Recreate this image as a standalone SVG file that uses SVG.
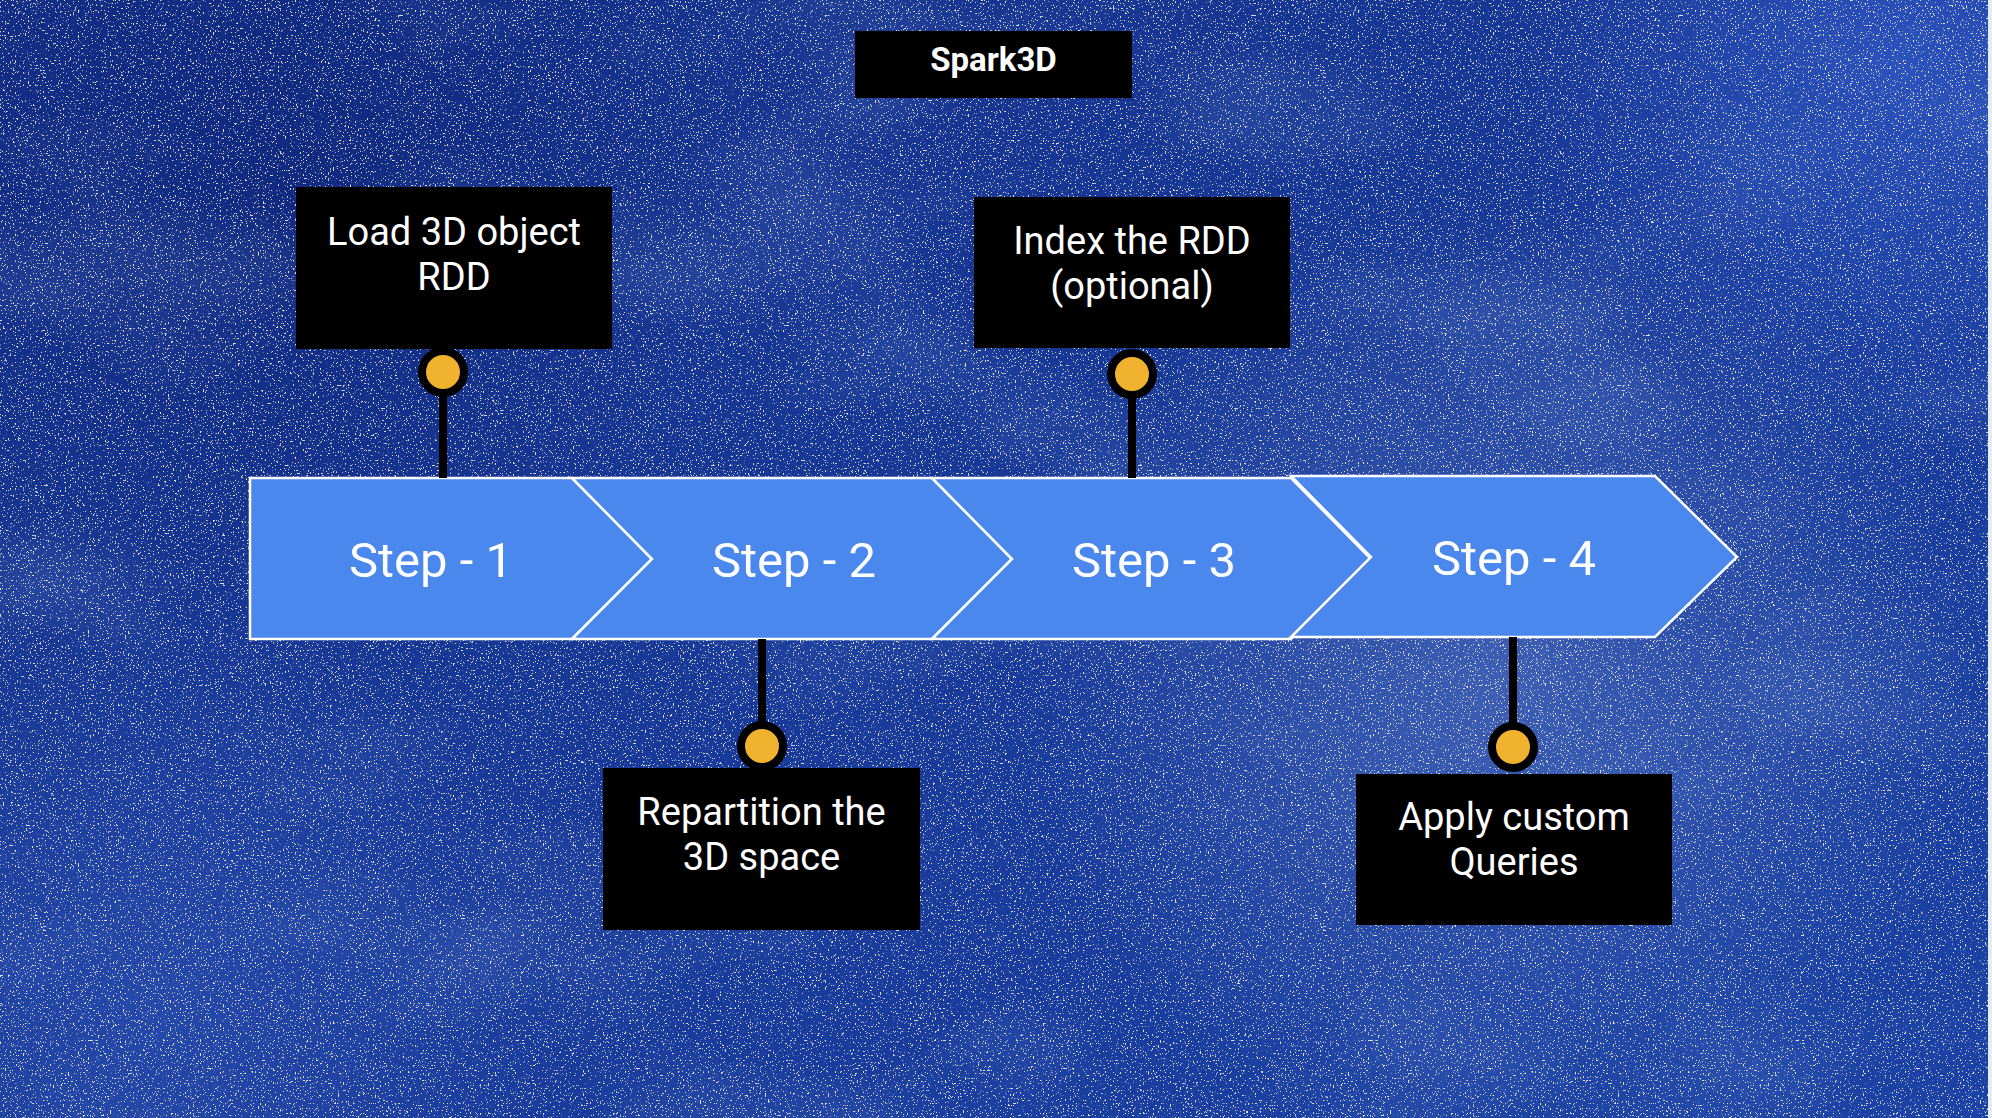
<svg xmlns="http://www.w3.org/2000/svg" width="1992" height="1118" viewBox="0 0 1992 1118">
  <defs>
    <style>
      .step { fill: #4a88ee; stroke: #ffffff; stroke-width: 2.5; stroke-linejoin: miter; }
      .steptxt { font-family: Roboto, "Liberation Sans", sans-serif; font-size: 49px; fill: #ffffff; text-anchor: middle; }
      .box { fill: #000000; }
      .boxtxt { font-family: Roboto, "Liberation Sans", sans-serif; font-size: 38px; fill: #ffffff; text-anchor: middle; }
      .title { font-family: Roboto, "Liberation Sans", sans-serif; font-size: 33px; font-weight: bold; fill: #ffffff; text-anchor: middle; }
      .stem { stroke: #000000; stroke-width: 8; fill: none; }
      .dot { fill: #f1b22f; stroke: #000000; stroke-width: 8; }
    </style>
    <linearGradient id="sky" x1="0" y1="0" x2="1" y2="1">
      <stop offset="0" stop-color="#142e86"/>
      <stop offset="0.45" stop-color="#183896"/>
      <stop offset="1" stop-color="#1b42a4"/>
    </linearGradient>
    <radialGradient id="glow1" cx="1500" cy="680" r="480" gradientUnits="userSpaceOnUse">
      <stop offset="0" stop-color="#6a88cf" stop-opacity="0.45"/>
      <stop offset="1" stop-color="#6a88cf" stop-opacity="0"/>
    </radialGradient>
    <radialGradient id="glow2" cx="1900" cy="60" r="380" gradientUnits="userSpaceOnUse">
      <stop offset="0" stop-color="#3a66d8" stop-opacity="0.55"/>
      <stop offset="1" stop-color="#3a66d8" stop-opacity="0"/>
    </radialGradient>
    <radialGradient id="glow3" cx="150" cy="1000" r="420" gradientUnits="userSpaceOnUse">
      <stop offset="0" stop-color="#3a62c4" stop-opacity="0.4"/>
      <stop offset="1" stop-color="#3a62c4" stop-opacity="0"/>
    </radialGradient>
    <radialGradient id="dark1" cx="300" cy="180" r="420" gradientUnits="userSpaceOnUse">
      <stop offset="0" stop-color="#0c2172" stop-opacity="0.5"/>
      <stop offset="1" stop-color="#0c2172" stop-opacity="0"/>
    </radialGradient>
    <filter id="stars" filterUnits="userSpaceOnUse" x="0" y="0" width="1992" height="1118">
      <feTurbulence type="fractalNoise" baseFrequency="0.6" numOctaves="2" seed="7" result="n"/>
      <feColorMatrix in="n" type="matrix" values="0 0 0 0 0.92  0 0 0 0 0.95  0 0 0 0 1  16 0 0 0 -10.2"/>
    </filter>
    <filter id="clouds" filterUnits="userSpaceOnUse" x="0" y="0" width="1992" height="1118">
      <feTurbulence type="fractalNoise" baseFrequency="0.003 0.006" numOctaves="3" seed="2" result="c"/>
      <feColorMatrix in="c" type="matrix" values="0 0 0 0 0.25  0 0 0 0 0.4  0 0 0 0 0.8  2 0 0 0 -1.0"/>
    </filter>
  </defs>

  <g id="background">
    <rect x="0" y="0" width="1992" height="1118" fill="url(#sky)"/>
    <rect x="0" y="0" width="1992" height="1118" filter="url(#clouds)" opacity="0.22"/>
    <rect x="0" y="0" width="1992" height="1118" fill="url(#dark1)"/>
    <rect x="0" y="0" width="1992" height="1118" fill="url(#glow1)"/>
    <rect x="0" y="0" width="1992" height="1118" fill="url(#glow2)"/>
    <rect x="0" y="0" width="1992" height="1118" fill="url(#glow3)"/>
    <rect x="0" y="0" width="1992" height="1118" filter="url(#stars)" opacity="0.85"/>
    <rect x="1988" y="0" width="4" height="1118" fill="#e8ebf2"/>
  </g>

  <g id="title">
    <rect class="box" x="855" y="31" width="277" height="67"/>
    <text class="title" x="993.5" y="71">Spark3D</text>
  </g>

  <g id="step1">
    <polygon class="step" points="250,478 572,478 652,559 572,639 250,639"/>
    <text class="steptxt" x="431" y="577">Step - 1</text>
  </g>
  <g id="step2">
    <polygon class="step" points="572,478 932,478 1012,559 932,639 572,639 652,559"/>
    <text class="steptxt" x="794" y="577">Step - 2</text>
  </g>
  <g id="step3">
    <polygon class="step" points="932,478 1291,478 1371,559 1291,639 932,639 1012,559"/>
    <text class="steptxt" x="1154" y="577">Step - 3</text>
  </g>
  <g id="step4">
    <polygon class="step" points="1291,476 1655,476 1737,557 1655,637 1291,637 1371,557"/>
    <text class="steptxt" x="1514" y="575">Step - 4</text>
  </g>

  <g id="connectors">
    <line class="stem" x1="443" y1="372" x2="443" y2="478"/>
    <line class="stem" x1="762" y1="639" x2="762" y2="746"/>
    <line class="stem" x1="1132" y1="374" x2="1132" y2="478"/>
    <line class="stem" x1="1513" y1="637" x2="1513" y2="747"/>
  </g>

  <g id="label1">
    <rect class="box" x="296" y="187" width="316" height="162"/>
    <text class="boxtxt" x="454" y="245">Load 3D object</text>
    <text class="boxtxt" x="454" y="290">RDD</text>
    <circle class="dot" cx="443" cy="372" r="21"/>
  </g>
  <g id="label2">
    <rect class="box" x="603" y="768" width="317" height="162"/>
    <text class="boxtxt" x="761.5" y="825">Repartition the</text>
    <text class="boxtxt" x="761.5" y="870">3D space</text>
    <circle class="dot" cx="762" cy="746" r="21"/>
  </g>
  <g id="label3">
    <rect class="box" x="974" y="197" width="316" height="151"/>
    <text class="boxtxt" x="1132" y="254">Index the RDD</text>
    <text class="boxtxt" x="1132" y="299">(optional)</text>
    <circle class="dot" cx="1132" cy="374" r="21"/>
  </g>
  <g id="label4">
    <rect class="box" x="1356" y="774" width="316" height="151"/>
    <text class="boxtxt" x="1514" y="830">Apply custom</text>
    <text class="boxtxt" x="1514" y="875">Queries</text>
    <circle class="dot" cx="1513" cy="747" r="21"/>
  </g>
</svg>
